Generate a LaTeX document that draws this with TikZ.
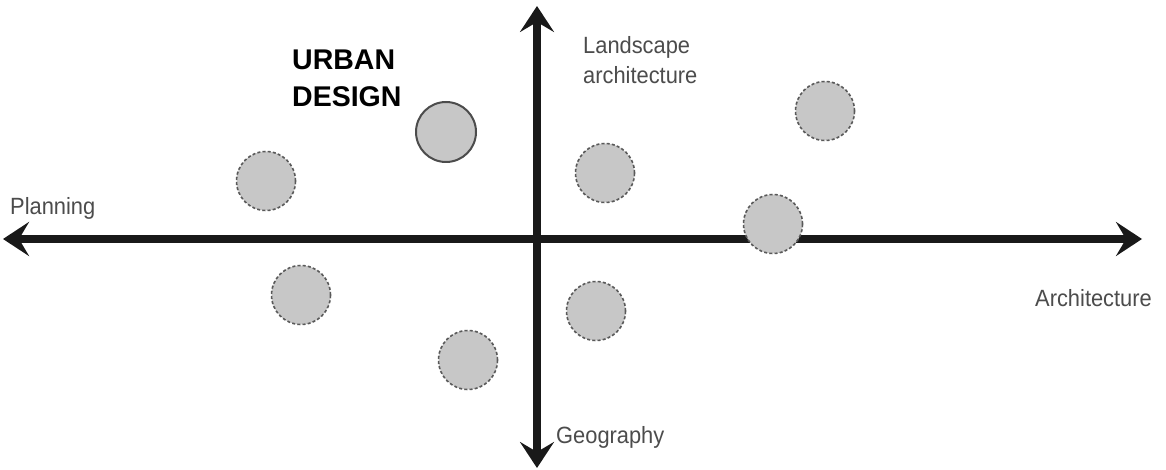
\documentclass[tikz,border=0pt]{standalone}
\usepackage{fontspec}
\setmainfont{Liberation Sans}
\newfontfamily\narrowfont[FakeStretch=0.93]{Liberation Sans}
\usetikzlibrary{arrows.meta}
\begin{document}
\begin{tikzpicture}[x=1pt,y=-1pt,
  axis/.style={line width=8.5pt,draw=black!90,-{Stealth[length=26pt,width=34pt,inset=10pt]}},
  bubble/.style={circle,draw=black!65,fill=black!22,minimum size=59pt,inner sep=0pt,line width=1.6pt,dash pattern=on 3pt off 2.2pt},
  solidbubble/.style={circle,draw=black!70,fill=black!22,minimum size=60pt,inner sep=0pt,line width=2pt},
  lbl/.style={font=\narrowfont\fontsize{23.5}{30}\selectfont,text=black!70,inner sep=0pt},
  ttl/.style={font=\bfseries\fontsize{28.5}{34}\selectfont,text=black,inner sep=0pt,align=left}]
\useasboundingbox (0,0) rectangle (1166,470);
\fill[white] (0,0) rectangle (1166,470);
\coordinate (c) at (537,239);
\coordinate (L) at (3,239);
\coordinate (R) at (1142,239);
\coordinate (T) at (537,6);
\coordinate (B) at (537,468);
\draw[axis] (c) -- (L);
\draw[axis] (c) -- (R);
\draw[axis] (c) -- (T);
\draw[axis] (c) -- (B);
\node[solidbubble] (ud) at (446,132) {};
\node[bubble] (b1) at (266,181) {};
\node[bubble] (b2) at (605,173) {};
\node[bubble] (b3) at (825,111) {};
\node[bubble] (b4) at (773,224) {};
\node[bubble] (b5) at (301,295) {};
\node[bubble] (b6) at (596,311) {};
\node[bubble] (b7) at (468,360) {};
\node[lbl,anchor=west] (pl) at (10,208) {Planning};
\node[lbl,anchor=west,align=left] (la) at (583,60) {Landscape\\architecture};
\node[lbl,anchor=west] (ar) at (1035,298) {Architecture};
\node[lbl,anchor=west] (ge) at (556,437) {Geography};
\node[ttl,anchor=west] (t1) at (292,60) {URBAN};
\node[ttl,anchor=west] (t2) at (292,97) {DESIGN};
\end{tikzpicture}
\end{document}
